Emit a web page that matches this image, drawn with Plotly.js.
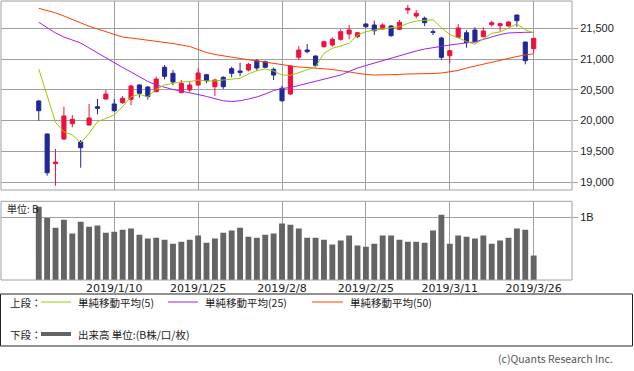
<!DOCTYPE html>
<html>
<head>
<meta charset="utf-8">
<script src="https://cdn.plot.ly/plotly-3.0.1.min.js"></script>
<style>
html,body{margin:0;padding:0;background:#fff;}
#chart{width:634px;height:371px;}
</style>
</head>
<body>
<div id="chart"></div>
<script>
const dates = ['2018/12/21','2018/12/25','2018/12/26','2018/12/27','2018/12/28','2019/1/4','2019/1/7','2019/1/8','2019/1/9','2019/1/10','2019/1/11','2019/1/15','2019/1/16','2019/1/17','2019/1/18','2019/1/21','2019/1/22','2019/1/23','2019/1/24','2019/1/25','2019/1/28','2019/1/29','2019/1/30','2019/1/31','2019/2/1','2019/2/4','2019/2/5','2019/2/6','2019/2/7','2019/2/8','2019/2/12','2019/2/13','2019/2/14','2019/2/15','2019/2/18','2019/2/19','2019/2/20','2019/2/21','2019/2/22','2019/2/25','2019/2/26','2019/2/27','2019/2/28','2019/3/1','2019/3/4','2019/3/5','2019/3/6','2019/3/7','2019/3/8','2019/3/11','2019/3/12','2019/3/13','2019/3/14','2019/3/15','2019/3/18','2019/3/19','2019/3/20','2019/3/22','2019/3/25','2019/3/26'];

const openP  = [20318,19781,19298,19700,19948,19651,19927,20225,20350,20269,20290,20345,20578,20545,20469,20866,20768,20453,20496,20578,20745,20550,20703,20843,20805,20822,20973,20957,20833,20524,20431,21028,21147,21049,21201,21228,21321,21407,21363,21570,21554,21489,21537,21484,21798,21700,21663,21445,21342,21054,21354,21428,21472,21363,21559,21542,21537,21716,21277,21168];
const highP  = [20334,19790,19537,20225,20090,19683,20269,20350,20497,20350,20400,20583,20590,20560,20713,20903,20822,20659,20631,20849,20760,20680,20720,20875,20940,20940,21000,20973,20860,20562,20900,21212,21245,21060,21300,21354,21484,21554,21440,21580,21624,21581,21554,21635,21879,21798,21689,21484,21363,21140,21570,21472,21516,21516,21624,21580,21618,21720,21280,21337];
const lowP   = [19997,19103,18940,19683,19890,19233,19920,20101,20340,20140,20270,20250,20370,20342,20460,20670,20573,20443,20459,20562,20605,20399,20513,20703,20724,20800,20810,20850,20659,20306,20415,20984,21093,20866,21185,21201,21298,21321,21340,21510,21391,21480,21363,21472,21733,21663,21537,21391,20984,20931,21350,21184,21266,21355,21526,21445,21530,21526,20914,21093];
const closeP = [20160,19151,19325,20074,20020,19558,20041,20199,20431,20160,20361,20562,20443,20390,20675,20719,20627,20605,20578,20773,20648,20659,20550,20768,20784,20914,20854,20866,20740,20322,20887,21147,21120,20898,21282,21321,21445,21472,21428,21526,21461,21554,21380,21598,21825,21744,21591,21435,21028,21136,21505,21266,21282,21456,21591,21575,21602,21624,20973,21337];

const ma5  = [20838,20387,19970,19818,19765,19639,19792,19981,20036,20090,20225,20387,20427,20387,20508,20578,20605,20631,20631,20659,20643,20643,20659,20675,20687,20757,20810,20838,20805,20740,20736,20778,20822,20875,21093,21175,21212,21256,21391,21445,21472,21489,21505,21526,21581,21619,21630,21640,21510,21400,21345,21285,21240,21330,21420,21440,21500,21570,21475,21425];
const ma25 = [21598,21505,21424,21358,21310,21261,21180,21098,21017,20936,20862,20789,20708,20635,20578,20537,20505,20477,20453,20423,20391,20350,20321,20309,20322,20350,20383,20431,20488,20521,20537,20570,20602,20635,20667,20703,20740,20797,20854,20895,20936,20976,21017,21058,21098,21131,21163,21188,21212,21228,21245,21261,21280,21318,21358,21399,21424,21435,21435,21435];
const ma50 = [21825,21790,21751,21700,21643,21586,21533,21489,21448,21399,21358,21342,21326,21305,21285,21269,21253,21228,21204,21155,21106,21074,21049,21028,21009,20989,20968,20947,20927,20903,20879,20870,20862,20854,20846,20830,20810,20789,20765,20749,20740,20740,20740,20749,20757,20757,20760,20765,20773,20794,20814,20854,20887,20919,20944,20980,21017,21041,21066,21085];

const volume = [1.17,0.99,0.835,0.96,0.74,0.93,0.85,0.87,0.755,0.77,0.80,0.82,0.72,0.66,0.675,0.64,0.58,0.61,0.64,0.71,0.595,0.66,0.755,0.79,0.835,0.69,0.675,0.72,0.74,0.90,0.88,0.82,0.675,0.675,0.64,0.565,0.63,0.71,0.55,0.53,0.58,0.71,0.71,0.64,0.61,0.61,0.595,0.79,1.04,0.58,0.71,0.69,0.66,0.71,0.58,0.63,0.675,0.82,0.80,0.39];

const tickDates = ['2019/1/10','2019/1/25','2019/2/8','2019/2/25','2019/3/11','2019/3/26'];
const priceTicks = [19000,19500,20000,20500,21000,21500];
const priceTickText = ['19,000','19,500','20,000','20,500','21,000','21,500'];
const volTicks = [1];
const volTickText = ['1B'];

const legendUpper = '上段：';
const legendLower = '下段：';
const seriesNames = ['単純移動平均(5)','単純移動平均(25)','単純移動平均(50)'];
const volumeName = '出来高 単位:(B株/口/枚)';
const unitLabel = '単位: B';
const credit = '(c)Quants Research Inc.';

const xs = dates.map((d, i) => i);
const tickVals = tickDates.map(d => dates.indexOf(d));

const W = 634, H = 371;
const mL = 1, mR = 62, mT = 1, mB = 91;
const pw = W - mL - mR, ph = H - mT - mB;
const px = v => (v - mL) / pw;
const py = v => (H - mB - v) / ph;

const cRed = '#f0103c', cBlue = '#202898';
const cMA5 = '#99cc00', cMA25 = '#a020f0', cMA50 = '#ff4000';
const grid = '#a0a0a0';
const jp = 'Noto Sans CJK JP';

const traces = [
  {
    type: 'candlestick', x: xs, open: openP, high: highP, low: lowP, close: closeP,
    xaxis: 'x', yaxis: 'y',
    increasing: {line: {color: cRed, width: 1}, fillcolor: cRed},
    decreasing: {line: {color: cBlue, width: 1}, fillcolor: cBlue},
    whiskerwidth: 0, hoverinfo: 'skip', showlegend: false
  },
  {type: 'scatter', mode: 'lines', x: xs, y: ma50, line: {color: cMA50, width: 1}, xaxis: 'x', yaxis: 'y', hoverinfo: 'skip', showlegend: false},
  {type: 'scatter', mode: 'lines', x: xs, y: ma25, line: {color: cMA25, width: 1}, xaxis: 'x', yaxis: 'y', hoverinfo: 'skip', showlegend: false},
  {type: 'scatter', mode: 'lines', x: xs, y: ma5, line: {color: cMA5, width: 1}, xaxis: 'x', yaxis: 'y', hoverinfo: 'skip', showlegend: false},
  {type: 'bar', x: xs, y: volume, width: 0.7, marker: {color: '#646464', line: {width: 0}}, xaxis: 'x', yaxis: 'y2', hoverinfo: 'skip', showlegend: false}
];

const shapes = [
  {type: 'rect', xref: 'paper', yref: 'y domain', x0: 0, x1: 1, y0: 0, y1: 1, line: {color: grid, width: 1}},
  {type: 'rect', xref: 'paper', yref: 'y2 domain', x0: 0, x1: 1, y0: 0, y1: 1, line: {color: grid, width: 1}},
  {type: 'rect', xref: 'paper', yref: 'paper', x0: px(0.5), x1: px(632.5), y0: py(346), y1: py(294), line: {color: '#222', width: 1}},
  {type: 'line', xref: 'paper', yref: 'paper', x0: px(41), x1: px(71), y0: py(302), y1: py(302), line: {color: cMA5, width: 1}},
  {type: 'line', xref: 'paper', yref: 'paper', x0: px(168), x1: px(198), y0: py(302), y1: py(302), line: {color: cMA25, width: 1}},
  {type: 'line', xref: 'paper', yref: 'paper', x0: px(312), x1: px(343), y0: py(302), y1: py(302), line: {color: cMA50, width: 1}},
  {type: 'line', xref: 'paper', yref: 'paper', x0: px(41), x1: px(71), y0: py(334), y1: py(334), line: {color: '#646464', width: 4}}
];

const ann = (text, x, y, anchor, size, color, family) => ({
  text: text, xref: 'paper', yref: 'paper', x: px(x), y: py(y), xanchor: anchor, yanchor: 'middle',
  showarrow: false, font: {family: family || jp, size: size, color: color || '#222'}
});

const annotations = [
  ann(unitLabel, 5, 209, 'left', 10),
  ann(legendUpper, 8, 302, 'left', 10.5),
  ann(seriesNames[0], 76, 302, 'left', 10.5),
  ann(seriesNames[1], 203, 302, 'left', 10.5),
  ann(seriesNames[2], 348, 302, 'left', 10.5),
  ann(legendLower, 8, 334, 'left', 10.5),
  ann(volumeName, 76, 334, 'left', 10.5),
  ann(credit, 615, 358, 'right', 10.5, '#555')
];

const layout = {
  width: W, height: H,
  margin: {l: mL, r: mR, t: mT, b: mB, pad: 0},
  paper_bgcolor: '#fff', plot_bgcolor: '#fff',
  showlegend: false,
  xaxis: {
    domain: [0, 1], anchor: 'y2', range: [-4.5, 63.57],
    tickmode: 'array', tickvals: tickVals, ticktext: tickDates,
    showgrid: true, gridcolor: grid, gridwidth: 1, zeroline: false, showline: false,
    ticks: '', tickfont: {family: 'DejaVu Sans', size: 11, color: '#222'},
    rangeslider: {visible: false}, fixedrange: true
  },
  yaxis: {
    domain: [(H - mB - 190) / ph, 1], anchor: 'x', side: 'right', range: [18870, 21944],
    tickmode: 'array', tickvals: priceTicks, ticktext: priceTickText,
    showgrid: true, gridcolor: grid, gridwidth: 1, zeroline: false, showline: false,
    ticks: 'outside', ticklen: 5, tickcolor: grid,
    tickfont: {family: 'Liberation Sans', size: 11, color: '#222'}, fixedrange: true
  },
  yaxis2: {
    domain: [0, (H - mB - 201.3) / ph], anchor: 'x', side: 'right', range: [0, 1.255],
    tickmode: 'array', tickvals: volTicks, ticktext: volTickText,
    showgrid: true, gridcolor: grid, gridwidth: 1, zeroline: false, showline: false,
    ticks: 'outside', ticklen: 5, tickcolor: grid,
    tickfont: {family: 'Liberation Sans', size: 11, color: '#222'}, fixedrange: true
  },
  shapes: shapes,
  annotations: annotations
};

Plotly.newPlot('chart', traces, layout, {staticPlot: true, displayModeBar: false});
</script>
</body>
</html>
